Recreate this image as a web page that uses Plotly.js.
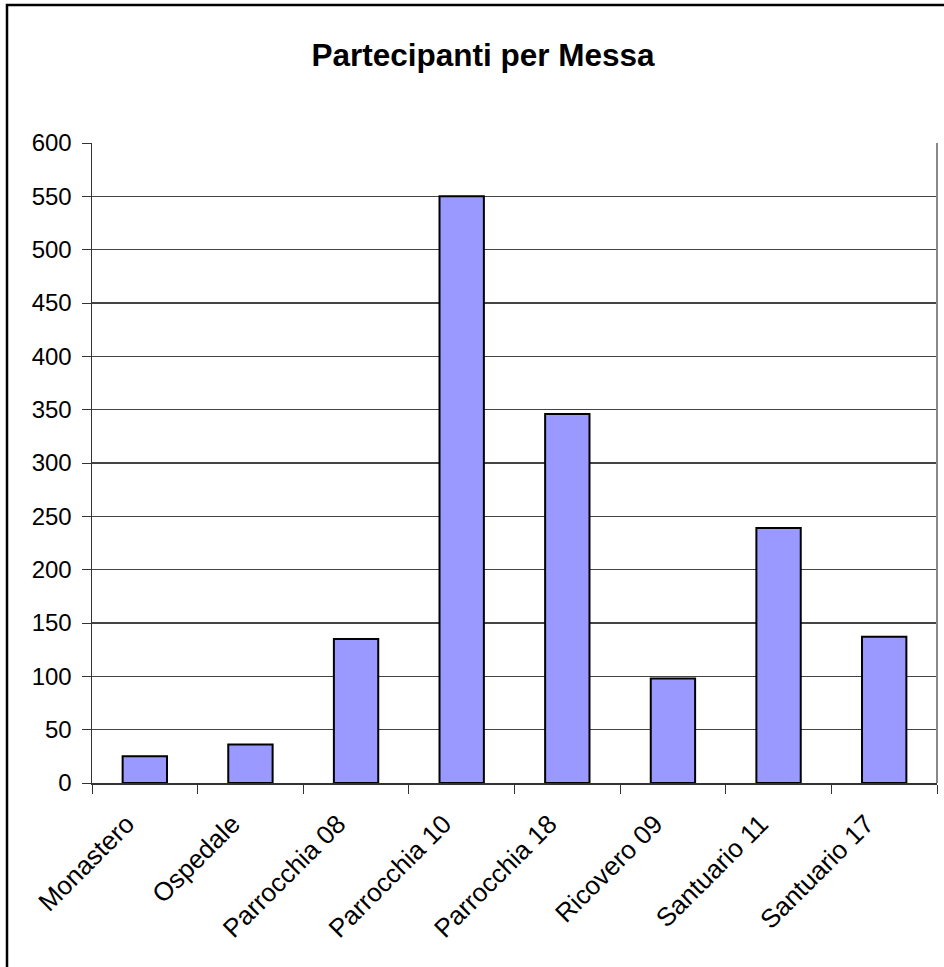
<!DOCTYPE html>
<html>
<head>
<meta charset="utf-8">
<script src="https://cdn.plot.ly/plotly-3.0.1.min.js"></script>
<style>
html,body{margin:0;padding:0;background:#fff;}
#chart{width:944px;height:967px;}
</style>
</head>
<body>
<div id="chart"></div>
<script>
const categories = ["Monastero","Ospedale","Parrocchia 08","Parrocchia 10","Parrocchia 18","Ricovero 09","Santuario 11","Santuario 17"];
const partecipanti = [25, 36, 135, 550, 346, 98, 239, 137];
const yTicks = [0,50,100,150,200,250,300,350,400,450,500,550,600];
const chartTitle = "Partecipanti per Messa";

const font = "Liberation Sans, Arial, sans-serif";

const trace = {
  type: "bar",
  x: categories,
  y: partecipanti,
  marker: {color: "#9999FF", line: {color: "#000000", width: 2}},
  hoverinfo: "x+y"
};

const layout = {
  width: 944,
  height: 967,
  margin: {l: 92, r: 7, t: 143, b: 184},
  paper_bgcolor: "#ffffff",
  plot_bgcolor: "#ffffff",
  showlegend: false,
  bargap: 0.58,
  title: {
    text: "<b>" + chartTitle + "</b>",
    font: {family: font, size: 31.5, color: "#000"},
    x: 483/944, xanchor: "center",
    y: 1 - 55/967, yanchor: "middle",
    xref: "container", yref: "container"
  },
  xaxis: {
    type: "category",
    tickson: "boundaries",
    ticks: "outside",
    ticklen: 9,
    tickcolor: "#333",
    tickwidth: 1,
    tickangle: -45,
    ticklabelshift: -18,
    ticklabelstandoff: 14,
    tickfont: {family: font, size: 26, color: "#000"},
    showgrid: false,
    showline: true,
    linecolor: "#333",
    linewidth: 1.5,
    zeroline: false,
    fixedrange: true
  },
  yaxis: {
    range: [0, 600],
    tickvals: yTicks,
    ticktext: yTicks.map(String),
    ticks: "outside",
    ticklen: 9,
    tickcolor: "#333",
    tickwidth: 1,
    ticklabelstandoff: 5,
    tickfont: {family: font, size: 24, color: "#000"},
    showgrid: true,
    gridcolor: "#444",
    gridwidth: 1.2,
    showline: true,
    linecolor: "#333",
    linewidth: 1.5,
    zeroline: false,
    fixedrange: true
  },
  shapes: [
    {type: "line", xref: "paper", yref: "paper", x0: 1, x1: 1, y0: 0, y1: 1,
     line: {color: "#888", width: 2}},
    {type: "rect", xref: "paper", yref: "paper",
     x0: (7-92)/845, x1: (960-92)/845, y0: -0.35, y1: (967-184-5)/640,
     line: {color: "#000", width: 2.5}, fillcolor: "rgba(0,0,0,0)", layer: "below"}
  ]
};

Plotly.newPlot("chart", [trace], layout, {displayModeBar: false, staticPlot: true});
</script>
</body>
</html>
